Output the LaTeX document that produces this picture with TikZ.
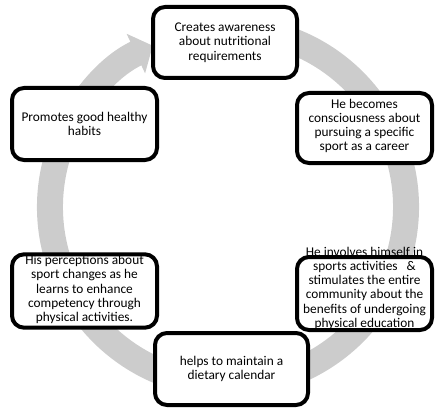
\documentclass[tikz,border=0pt]{standalone}
\usepackage{fontspec}
\setmainfont{Carlito}
\usetikzlibrary{arrows.meta}

\begin{document}
\begin{tikzpicture}[x=0.75pt, y=0.75pt,
    stagebox/.style={rectangle, rounded corners=9pt, fill=white, inner sep=0pt, outer sep=0pt},
    stageedge/.style={draw=black, line width=3pt, rounded corners=9pt},
    stagetext/.style={align=center, font=\fontsize{10pt}{10.7pt}\selectfont, inner sep=0pt},
    ring/.style={draw=gray!40, line width=19.5pt, -{Triangle[length=14pt, width=32pt]}}]
        \useasboundingbox (0,0) rectangle (436,408);

        % grey cycle arrow behind the boxes
        \coordinate (ctr) at (228,201);
        \draw[ring] ([shift={(75:178)}]ctr) arc[start angle=75, end angle=-245, radius=178];

        % stage boxes
        \node[stagebox, minimum width=108pt, minimum height=53.25pt] (s1) at (225,365.5) {};
        \node[stagebox, minimum width=101.25pt, minimum height=52.5pt] (s2) at (364.5,280) {};
        \node[stagebox, minimum width=108.75pt, minimum height=54pt] (s3) at (84.5,284) {};
        \node[stagebox, minimum width=108.75pt, minimum height=55pt] (s4) at (84.5,117) {};
        \node[stagebox, minimum width=101.25pt, minimum height=54.75pt] (s5) at (364.5,114.5) {};
        \node[stagebox, minimum width=114.75pt, minimum height=54pt] (s6) at (231.5,39) {};

        % stage texts
        \node[stagetext] (t1) at (s1) {Creates awareness\\about nutritional\\requirements};
        \node[stagetext] (t2) at ([yshift=1.5]s2) {He becomes\\consciousness about\\pursuing a specific\\sport as a career};
        \node[stagetext] (t3) at (s3) {Promotes good healthy\\habits};
        \node[stagetext] (t4) at ([yshift=1]s4) {His perceptions about\\sport changes as he\\learns to enhance\\competency through\\physical activities.};
        \node[stagetext] (t5) at ([yshift=4]s5) {He involves himself in\\sports activities\ \ \ \&\\stimulates the entire\\community about the\\benefits of undergoing\\physical education};
        \node[stagetext] (t6) at (s6) {helps to maintain a\\dietary calendar};

        % borders on top of the texts
        \foreach \s in {s1,s2,s3,s4,s5,s6}
            \draw[stageedge] (\s.south west) rectangle (\s.north east);
    \end{tikzpicture}
\end{document}
